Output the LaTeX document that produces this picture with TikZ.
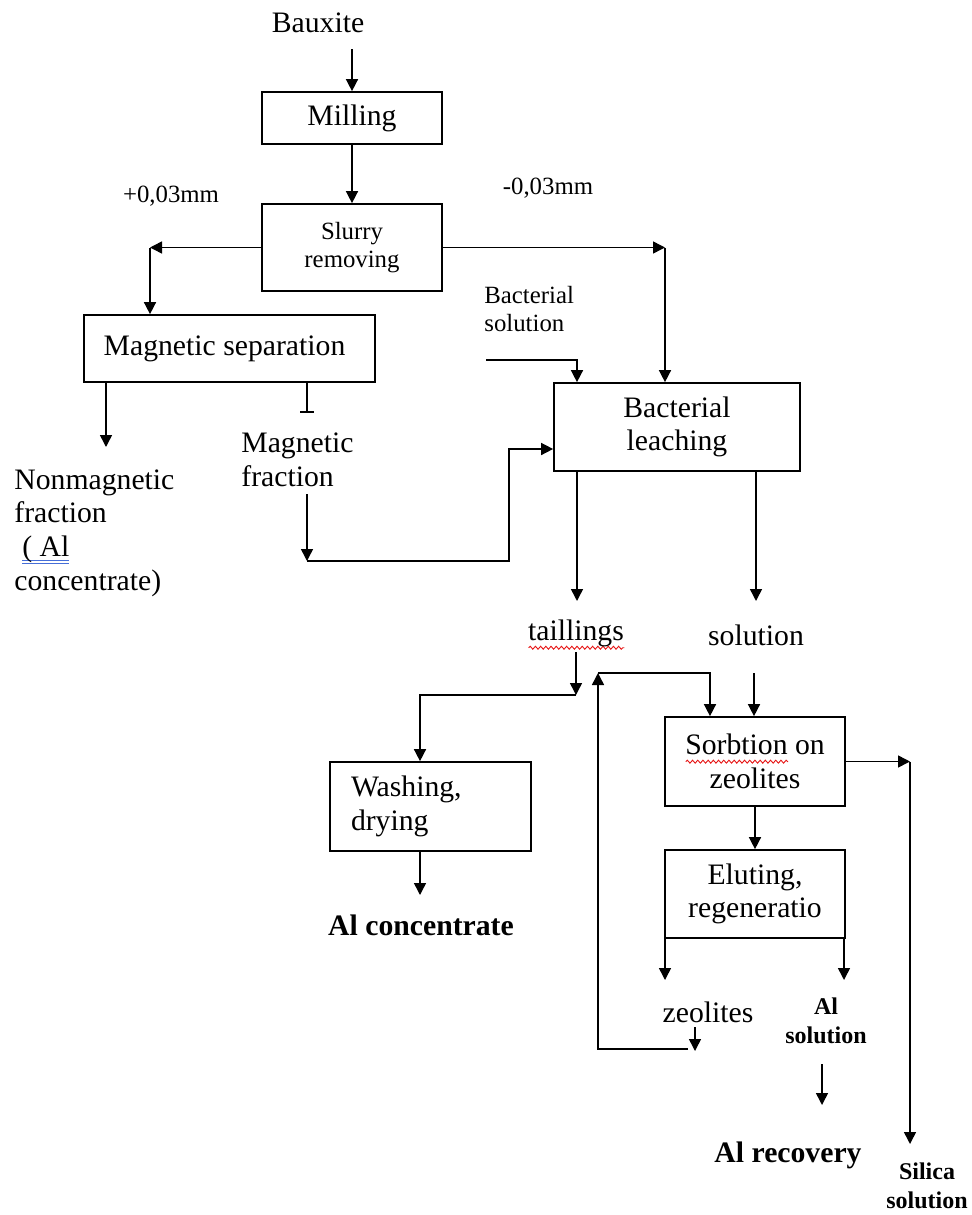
\documentclass[tikz,border=0pt]{standalone}
\usepackage{fontspec}
\setmainfont{Liberation Serif}
\usetikzlibrary{arrows.meta,decorations.pathmorphing}

\definecolor{ulblue}{RGB}{70,110,215}
\definecolor{wavered}{RGB}{230,20,20}

% type sizes
\newcommand\mainsz{\fontsize{14.85}{16.8}\selectfont}
\newcommand\smallsz{\fontsize{12.4}{14}\selectfont}
\newcommand\boldsz{\fontsize{14.85}{16.8}\selectfont\bfseries}
\newcommand\boldsmall{\fontsize{12}{14.2}\selectfont\bfseries}

% spell-checker style underlines
\newsavebox\ulbox
\newcommand\redwave[1]{\sbox\ulbox{#1}%
  \rlap{\raisebox{-3.4pt}{\tikz[x=1pt,y=1pt,baseline=0pt]
    \draw[wavered, line width=0.45pt, decorate,
      decoration={snake, amplitude=0.75pt, segment length=2.6pt}]
      (0pt,0pt) -- (\wd\ulbox,0pt);}}%
  \usebox\ulbox}
\newcommand\blueuu[1]{\sbox\ulbox{#1}%
  \rlap{\textcolor{ulblue}{\rule[-2.4pt]{\wd\ulbox}{0.45pt}}}%
  \rlap{\textcolor{ulblue}{\rule[-3.8pt]{\wd\ulbox}{0.45pt}}}%
  \usebox\ulbox}

\tikzset{
  box/.style={draw, line width=0.85pt, inner sep=0pt, align=center, font=\mainsz},
  txt/.style={inner sep=0pt, font=\mainsz, align=left},
  stxt/.style={inner sep=0pt, font=\smallsz, align=left},
  btxt/.style={inner sep=0pt, font=\boldsz, align=center},
  bstxt/.style={inner sep=0pt, font=\boldsmall, align=center},
  ln/.style={line width=0.75pt},
  arr/.style={ln, -{Triangle[length=6pt,width=6pt]}},
}

\begin{document}
\begin{tikzpicture}[x=0.5pt,y=-0.5pt]
\useasboundingbox (0,0) rectangle (971,1215);

% process boxes
\node[box, minimum width=90pt, minimum height=26pt] (mill) at (352,118) {Milling};
\node[box, font=\smallsz, minimum width=90pt, minimum height=43.5pt] (slurry) at (352,247.5) {Slurry\\removing};
\node[box, minimum width=145.5pt, minimum height=33.5pt] (magsep) at (229.5,348.5) {Magnetic separation\kern5pt};
\node[box, minimum width=123pt, minimum height=44pt] (bac) at (677,427) {Bacterial\\leaching};
\node[box, align=left, text width=79.5pt, inner xsep=10.5pt, minimum height=44.5pt] (wash) at (430.5,806.5) {Washing,\\drying};
\node[box, minimum width=90pt, minimum height=44.5pt] (sorb) at (755,761.5) {\redwave{Sorbtion} on\\zeolites};
\node[box, minimum width=90pt, minimum height=44pt] (elut) at (755,894) {Eluting,\\regeneratio};

% labels
\node[txt, align=center] (baux) at (318,23) {Bauxite};
\node[stxt] (plus) at (171,196) {+0,03mm};
\node[stxt] (minus) at (548,188) {-0,03mm};
\node[txt, anchor=west] (nonmag) at (14,533) {Nonmagnetic\\fraction\\\hspace*{4pt}\blueuu{( Al}\\concentrate)};
\node[txt, anchor=west] (magfr) at (241,460) {Magnetic\\fraction};
\node[stxt, anchor=west] (bacsol) at (484,309) {Bacterial\\solution};
\node[txt] (tail) at (576,635) {\redwave{taillings}};
\node[txt] (sol) at (756,635) {solution};
\node[btxt] (alconc) at (421,925) {Al concentrate};
\node[txt] (zeo) at (708,1012) {zeolites};
\node[bstxt] (alsol) at (826,1021) {Al\\solution};
\node[btxt] (alrec) at (788,1155) {Al recovery};
\node[bstxt] (silica) at (927,1186) {Silica\\solution};

% feed and milling
\coordinate (bxin) at (352,49);
\draw[arr] (bxin) -- (mill.north);
\draw[arr] (mill.south) -- (slurry.north);

% size split
\coordinate (cL) at (150,247.5);
\coordinate (cR) at (665,247.5);
\draw[arr] (slurry.west) -- (cL);
\draw[arr] (cL) -- (cL |- magsep.north);
\draw[arr] (slurry.east) -- (cR);
\draw[arr] (cR) -- (cR |- bac.north);

% magnetic separation outputs
\coordinate (nmEnd) at (106,447);
\draw[arr] (nmEnd |- magsep.south) -- (nmEnd);
\coordinate (tk) at (307,412);
\draw[ln] (tk |- magsep.south) -- (tk);
\draw[ln] ([xshift=-3.5pt]tk) -- ([xshift=3.5pt]tk);
\coordinate (mfA) at (307,494);
\coordinate (mfB) at (307,561);
\coordinate (mfC) at (509,561);
\coordinate (mfD) at (509,449);
\draw[arr] (mfA) -- (mfB);
\draw[arr] (mfB) -- (mfC) -- (mfD) -- (mfD -| bac.west);

% bacterial solution feed
\coordinate (bsA) at (486,360);
\coordinate (bsB) at (577,360);
\draw[arr] (bsA) -- (bsB) -- (bsB |- bac.north);

% leaching products
\coordinate (tA) at (577,601);
\coordinate (sA) at (756,601);
\draw[arr] (tA |- bac.south) -- (tA);
\draw[arr] (sA |- bac.south) -- (sA);

% tailings to washing
\coordinate (t2a) at (576,652);
\coordinate (t2b) at (576,695);
\coordinate (t2c) at (420,695);
\draw[arr] (t2a) -- (t2b);
\draw[arr] (t2b) -- (t2c) -- (t2c |- wash.north);
\coordinate (acA) at (420,895);
\draw[arr] (acA |- wash.south) -- (acA);

% solution to sorption
\coordinate (soA) at (754,673);
\draw[arr] (soA) -- (soA |- sorb.north);
\draw[arr] (sorb.south) -- (elut.north);

% silica solution
\coordinate (siA) at (910,761.5);
\coordinate (siB) at (910,1144);
\draw[arr] (sorb.east) -- (siA);
\draw[arr] (siA) -- (siB);

% eluting outputs
\coordinate (eL) at (665,980);
\coordinate (eR) at (844,980);
\draw[arr] (eL |- elut.south) -- (eL);
\draw[arr] (eR |- elut.south) -- (eR);

% zeolite recycle loop
\coordinate (zA) at (695,1027);
\coordinate (zB) at (695,1051);
\draw[arr] (zA) -- (zB);
\coordinate (lpA) at (688,1049);
\coordinate (lpB) at (598,1049);
\coordinate (lpC) at (598,673);
\coordinate (lpD) at (710,673);
\draw[arr] (lpA) -- (lpB) -- (lpC);
\draw[arr] (lpC) -- (lpD) -- (lpD |- sorb.north);

% aluminium recovery
\coordinate (arA) at (822,1064);
\coordinate (arB) at (822,1105);
\draw[arr] (arA) -- (arB);
\end{tikzpicture}
\end{document}
